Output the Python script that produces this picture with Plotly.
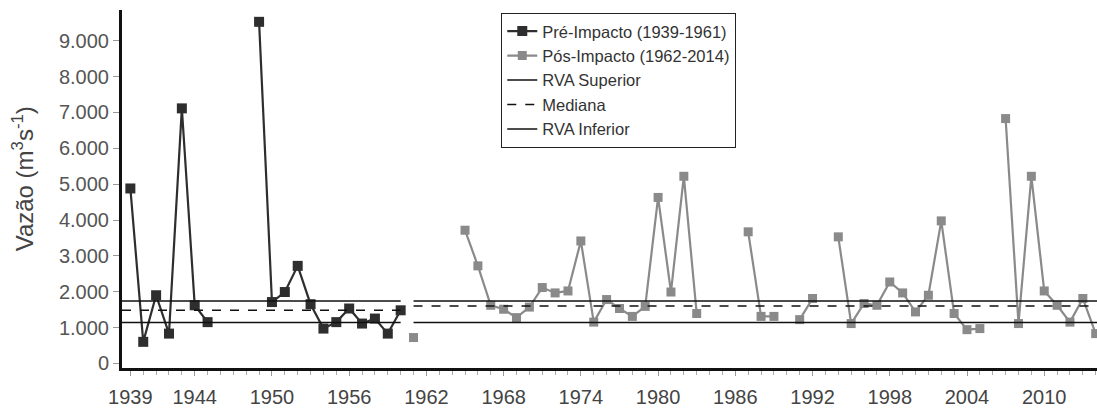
import plotly.graph_objects as go

# ---------------- data ----------------
pre_years = list(range(1939, 1961))
pre_vals = [4880, 600, 1900, 830, 7115, 1620, 1150, None, None, None,
            9530, 1710, 1990, 2720, 1650, 970, 1150, 1530, 1110, 1250, 830, 1480]

post_years = list(range(1961, 2015))
post_vals = [720, None, None, None, 3715, 2720, 1620, 1510, 1275, 1570,
             2115, 1965, 2020, 3415, 1150, 1780, 1530, 1310, 1590, 4630,
             1990, 5220, 1390, None, None, None, 3670, 1310, 1310, None,
             1220, 1810, None, 3530, 1110, 1670, 1620, 2270, 1965, 1435,
             1900, 3975, 1390, 940, 970, None, 6830, 1110, 5220, 2020,
             1620, 1150, 1810, 830]

# RVA limits: [pre, post]
rva_sup = [1740, 1740]
mediana = [1480, 1600]
rva_inf = [1140, 1140]

# period spans for the reference lines
x_start, pre_end, post_start, x_end = 1938.35, 1960.0, 1961.0, 2014.1

x_tickvals = [1939, 1944, 1950, 1956, 1962, 1968, 1974, 1980, 1986, 1992, 1998, 2004, 2010]
x_ticktext = [str(v) for v in x_tickvals]
y_tickvals = [0, 1000, 2000, 3000, 4000, 5000, 6000, 7000, 8000, 9000]
y_ticktext = ["0", "1.000", "2.000", "3.000", "4.000", "5.000", "6.000", "7.000", "8.000", "9.000"]

FONT = "Arial, Liberation Sans, sans-serif"
PRE_COLOR = "#2e2e2e"
POST_COLOR = "#8a8a8a"

fig = go.Figure()

fig.add_trace(go.Scatter(
    x=pre_years, y=pre_vals, mode="lines+markers", name="Pré-Impacto (1939-1961)",
    line=dict(color=PRE_COLOR, width=2.2),
    marker=dict(symbol="square", size=10, color=PRE_COLOR),
    connectgaps=False,
))
fig.add_trace(go.Scatter(
    x=post_years, y=post_vals, mode="lines+markers", name="Pós-Impacto (1962-2014)",
    line=dict(color=POST_COLOR, width=2.2),
    marker=dict(symbol="square", size=9, color=POST_COLOR),
    connectgaps=False,
))

def ref_line(vals, name, dash):
    fig.add_trace(go.Scatter(
        x=[x_start, pre_end, None, post_start, x_end],
        y=[vals[0], vals[0], None, vals[1], vals[1]],
        mode="lines", name=name,
        line=dict(color="#111111", width=1.5, dash=dash),
        connectgaps=False,
    ))

ref_line(rva_sup, "RVA Superior", "solid")
ref_line(mediana, "Mediana", "dash")
ref_line(rva_inf, "RVA Inferior", "solid")

fig.update_layout(
    width=1097, height=408,
    margin=dict(l=122, r=0, t=10, b=40),
    paper_bgcolor="white", plot_bgcolor="white",
    font=dict(family=FONT, color="#444444"),
    showlegend=True,
    legend=dict(
        x=0.389, y=0.992, xanchor="left", yanchor="top",
        bgcolor="white", bordercolor="#222222", borderwidth=1,
        font=dict(family=FONT, size=16.5, color="#333333"),
        itemwidth=30, tracegroupgap=0,
        entrywidth=226, entrywidthmode="pixels",
    ),
    annotations=[dict(
        text="Vazão (m<sup>3</sup>s<sup>-1</sup>)",
        xref="paper", yref="paper", x=0, y=0.527,
        xshift=-99, xanchor="center", yanchor="middle",
        textangle=-90, showarrow=False,
        font=dict(family=FONT, size=24, color="#444444"),
    )],
)

fig.update_xaxes(
    range=[x_start, x_end],
    tickmode="array", tickvals=x_tickvals, ticktext=x_ticktext,
    ticks="outside", ticklen=5, tickcolor="#999999", tickwidth=1,
    minor=dict(ticks="outside", dtick=1, tick0=1939, ticklen=4, tickcolor="#aaaaaa"),
    showline=True, linecolor="#111111", linewidth=3,
    showgrid=False, zeroline=False,
    tickfont=dict(family=FONT, size=20, color="#444444"),
    ticklabelstandoff=4,
)
fig.update_yaxes(
    range=[-130, 9860],
    tickmode="array", tickvals=y_tickvals, ticktext=y_ticktext,
    ticks="outside", ticklen=6, tickcolor="#999999", tickwidth=1,
    showline=True, linecolor="#111111", linewidth=3,
    showgrid=False, zeroline=False,
    tickfont=dict(family=FONT, size=20, color="#555555"),
)

fig.write_html(
    "out.html",
    config={"displayModeBar": False},
    post_script="document.body.style.margin='0';document.body.style.overflow='hidden';",
)
